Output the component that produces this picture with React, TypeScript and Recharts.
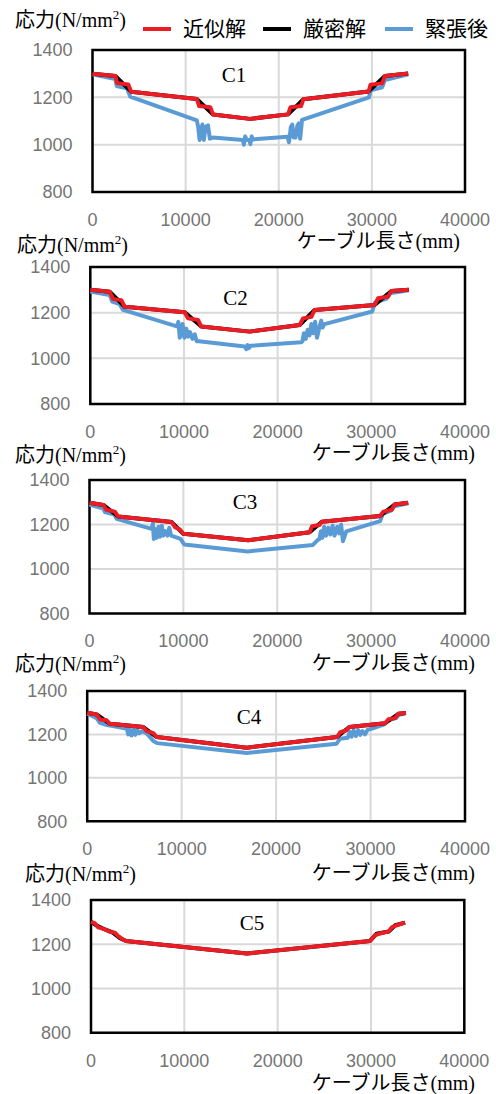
import { CartesianGrid, Line, LineChart, ReferenceArea, XAxis, YAxis } from "recharts";

type Pt = [number, number];

const xTicks = [0, 10000, 20000, 30000, 40000];
const yTicks = [800, 1000, 1200, 1400];
const seriesNames = ["近似解", "厳密解", "緊張後"];
const caseLabels = ["C1", "C2", "C3", "C4", "C5"];
const yTitle = "応力(N/mm";
const xTitle = "ケーブル長さ(mm)";

// C1
const c1Approx: Pt[] = [
  [0, 1300], [2450, 1290], [2650, 1260], [3850, 1254], [4150, 1224], [11200, 1193],
  [11450, 1163], [12650, 1158], [12950, 1127], [16900, 1109], [21000, 1128], [21250, 1158],
  [22400, 1163], [22650, 1192], [29650, 1225], [29850, 1253], [31100, 1259], [31400, 1290],
  [33900, 1301],
];
const c1Exact: Pt[] = [
  [0, 1300], [2450, 1290], [4150, 1224], [11200, 1193], [12950, 1127], [16900, 1109],
  [21000, 1128], [22650, 1192], [29650, 1225], [31400, 1290], [33900, 1301],
];
const c1Tension: Pt[] = [
  [0, 1297], [2450, 1277], [2600, 1248], [3700, 1238], [4050, 1203], [11200, 1103],
  [11350, 1075], [11500, 1020], [11650, 1060], [11800, 1085], [11950, 1020], [12150, 1075],
  [12400, 1082], [12600, 1025], [12900, 1030], [16150, 1020], [16250, 1000], [16400, 1035],
  [16550, 1020], [16850, 1020], [16950, 1002], [17100, 1035], [17200, 1022], [20950, 1033],
  [21100, 1010], [21300, 1075], [21450, 1085], [21600, 1030], [21800, 1030], [22000, 1080],
  [22150, 1090], [22300, 1025], [22500, 1105], [29700, 1200], [29850, 1230], [31100, 1242],
  [31400, 1273], [33900, 1297],
];

// C2
const c2Approx: Pt[] = [
  [0, 1300], [2070, 1292], [2420, 1260], [3310, 1255], [3670, 1226], [10080, 1202],
  [10430, 1175], [11500, 1168], [11850, 1139], [17000, 1117], [22350, 1146], [22710, 1175],
  [23600, 1182], [23950, 1212], [30360, 1234], [30710, 1263], [31780, 1270], [32140, 1295],
  [34000, 1300],
];
const c2Exact: Pt[] = [
  [0, 1300], [2070, 1292], [3670, 1226], [10080, 1202], [11850, 1139], [17000, 1117],
  [22350, 1146], [23950, 1212], [30360, 1234], [32140, 1295], [34000, 1300],
];
const c2Tension: Pt[] = [
  [0, 1293], [2070, 1277], [2350, 1248], [3140, 1237], [3490, 1212], [9250, 1140],
  [9400, 1160], [9550, 1090], [9700, 1105], [9850, 1150], [10050, 1090], [10250, 1130],
  [10450, 1095], [10650, 1115], [10900, 1085], [11150, 1105], [11350, 1075], [11600, 1075],
  [16500, 1052], [16650, 1040], [16800, 1058], [16950, 1045], [17100, 1055], [22500, 1070],
  [22650, 1075], [22800, 1110], [23000, 1085], [23200, 1125], [23400, 1100], [23600, 1150],
  [23800, 1110], [24000, 1160], [24200, 1090], [24450, 1135], [24650, 1165], [24800, 1135],
  [25000, 1150], [30100, 1205], [30400, 1245], [31650, 1262], [32000, 1285], [34000, 1298],
];

// C3
const c3Approx: Pt[] = [
  [0, 1298], [1470, 1288], [1800, 1266], [2700, 1258], [3050, 1236], [8750, 1211],
  [9100, 1188], [9650, 1177], [10000, 1158], [16900, 1129], [23450, 1165], [23700, 1192],
  [24500, 1198], [24750, 1212], [30950, 1238], [31300, 1258], [32200, 1266], [32500, 1290],
  [33950, 1298],
];
const c3Exact: Pt[] = [
  [0, 1298], [1470, 1288], [3050, 1236], [8750, 1211], [10000, 1158], [16900, 1129],
  [23450, 1165], [24750, 1212], [30950, 1238], [32500, 1290], [33950, 1298],
];
const c3Tension: Pt[] = [
  [0, 1290], [1450, 1272], [1650, 1256], [2650, 1245], [2900, 1225], [6600, 1180],
  [6750, 1205], [6850, 1135], [7000, 1180], [7150, 1140], [7350, 1190], [7500, 1145],
  [7700, 1195], [7850, 1150], [8050, 1170], [8300, 1150], [8500, 1185], [8700, 1150],
  [9700, 1135], [10100, 1110], [16850, 1079], [23800, 1108], [24300, 1130], [24500, 1135],
  [24650, 1170], [24800, 1140], [25000, 1190], [25200, 1150], [25450, 1185], [25650, 1155],
  [25900, 1195], [26100, 1150], [26400, 1190], [26600, 1160], [26800, 1200], [27000, 1125],
  [27350, 1169], [30950, 1215], [31250, 1248], [32100, 1262], [32450, 1282], [33950, 1295],
];

// C4
const c4Approx: Pt[] = [
  [0, 1300], [1000, 1292], [1360, 1269], [2060, 1265], [2410, 1249], [5940, 1234],
  [6300, 1215], [7000, 1206], [7360, 1188], [16890, 1139], [26450, 1188], [26800, 1210],
  [27400, 1218], [27750, 1234], [31550, 1252], [31900, 1270], [32600, 1275], [32950, 1295],
  [33750, 1299],
];
const c4Exact: Pt[] = [
  [0, 1300], [1000, 1292], [2410, 1249], [5940, 1234], [7360, 1188], [16890, 1139],
  [26450, 1188], [27750, 1234], [31550, 1252], [32950, 1295], [33750, 1299],
];
const c4Tension: Pt[] = [
  [0, 1297], [1000, 1275], [1300, 1255], [2100, 1243], [3300, 1234], [4200, 1226],
  [4350, 1200], [4500, 1222], [4700, 1195], [4900, 1225], [5100, 1198], [5300, 1220],
  [5500, 1205], [5800, 1215], [6300, 1205], [6600, 1190], [7000, 1170], [7400, 1160],
  [16890, 1115], [26400, 1157], [26750, 1180], [27600, 1185], [27800, 1212], [28000, 1190],
  [28200, 1218], [28450, 1193], [28700, 1220], [28900, 1198], [29150, 1215], [29400, 1200],
  [29700, 1222], [30100, 1226], [31500, 1248], [31850, 1265], [32700, 1275], [33000, 1290],
  [33700, 1297],
];

// C5
const c5Approx: Pt[] = [
  [0, 1301], [430, 1294], [780, 1276], [1500, 1267], [2040, 1256], [2570, 1252],
  [2930, 1237], [3460, 1221], [3750, 1215], [16690, 1158], [29900, 1215], [30440, 1241],
  [31160, 1251], [31870, 1257], [32230, 1276], [32770, 1286], [33650, 1298],
];
const c5Exact: Pt[] = [
  [0, 1301], [600, 1285], [1500, 1267], [2300, 1254], [3100, 1228], [3750, 1215],
  [16690, 1158], [29900, 1215], [30600, 1248], [31900, 1258], [32600, 1286], [33650, 1298],
];

const cases = [
  { approx: c1Approx, exact: c1Exact, tension: c1Tension },
  { approx: c2Approx, exact: c2Exact, tension: c2Tension },
  { approx: c3Approx, exact: c3Exact, tension: c3Tension },
  { approx: c4Approx, exact: c4Exact, tension: c4Tension },
  { approx: c5Approx, exact: c5Exact, tension: null },
];

// pixel layout of each panel (plot box, labels)
const frames = [
  { left: 92.5, right: 465, top: 49.5, bottom: 191.5, lx: 234, ly: 75, tx: 15, ty: 20, xr: 460, xy: 241 },
  { left: 90.3, right: 465, top: 267, bottom: 404, lx: 235.5, ly: 298, tx: 17, ty: 245, xr: 475, xy: 453 },
  { left: 89.5, right: 465, top: 480, bottom: 613.5, lx: 245, ly: 502, tx: 15, ty: 455, xr: 475, xy: 663 },
  { left: 87.2, right: 465, top: 690.7, bottom: 821, lx: 249, ly: 717, tx: 15, ty: 664, xr: 475, xy: 873 },
  { left: 91, right: 464.3, top: 899.7, bottom: 1032.5, lx: 252, ly: 923, tx: 25, ty: 874, xr: 475, xy: 1083 },
];

const RED = "#ec1c24";
const BLACK = "#000000";
const BLUE = "#5b9bd5";
const serif = "'Liberation Serif', 'Noto Sans CJK JP', serif";
const sans = "'Liberation Sans', Arial, sans-serif";

const toRows = (pts: Pt[]) => pts.map(([x, y]) => ({ x, y }));

const PAD = 16;
const AXIS_H = 44;

function Panel({ i }: { i: number }) {
  const f = frames[i];
  const c = cases[i];
  const tick = { fill: "#757575", fontSize: 18, fontFamily: sans };
  return (
    <>
      <div style={{ position: "absolute", left: 0, top: f.top - PAD }}>
        <LineChart
          width={496}
          height={f.bottom - f.top + PAD + AXIS_H}
          margin={{ top: PAD, right: 496 - f.right, bottom: 0, left: 0 }}
        >
          <CartesianGrid stroke="#d9d9d9" strokeWidth={2} />
          <XAxis
            type="number"
            dataKey="x"
            domain={[0, 40000]}
            ticks={xTicks}
            height={AXIS_H}
            axisLine={false}
            tickLine={false}
            tickMargin={15}
            tick={tick}
            interval={0}
          />
          <YAxis
            type="number"
            domain={[800, 1400]}
            ticks={yTicks}
            width={f.left}
            axisLine={false}
            tickLine={false}
            tickMargin={14}
            tick={tick}
            interval={0}
          />
          <ReferenceArea x1={0} x2={40000} y1={800} y2={1400} fill="none" stroke="#000" strokeWidth={2.5} />
          {c.tension && (
            <Line
              data={toRows(c.tension)}
              dataKey="y"
              name={seriesNames[2]}
              stroke={BLUE}
              strokeWidth={4}
              dot={false}
              type="linear"
              strokeLinejoin="round"
              isAnimationActive={false}
            />
          )}
          <Line
            data={toRows(c.exact)}
            dataKey="y"
            name={seriesNames[1]}
            stroke={BLACK}
            strokeWidth={4}
            dot={false}
            type="linear"
            strokeLinejoin="round"
            isAnimationActive={false}
          />
          <Line
            data={toRows(c.approx)}
            dataKey="y"
            name={seriesNames[0]}
            stroke={RED}
            strokeWidth={4}
            dot={false}
            type="linear"
            strokeLinejoin="round"
            isAnimationActive={false}
          />
        </LineChart>
      </div>
      <div
        style={{
          position: "absolute",
          left: f.lx - 30,
          width: 60,
          top: f.ly - 11,
          lineHeight: "22px",
          textAlign: "center",
          fontFamily: serif,
          fontSize: 21,
          color: "#000",
        }}
      >
        {caseLabels[i]}
      </div>
      <div
        style={{
          position: "absolute",
          left: f.tx,
          top: f.ty - 11,
          lineHeight: "22px",
          fontFamily: serif,
          fontSize: 20,
          color: "#000",
          whiteSpace: "nowrap",
        }}
      >
        {yTitle}
        <sup style={{ fontSize: 13, lineHeight: 0 }}>2</sup>)
      </div>
      <div
        style={{
          position: "absolute",
          right: 496 - f.xr,
          top: f.xy - 11,
          lineHeight: "22px",
          fontFamily: serif,
          fontSize: 20,
          color: "#000",
          whiteSpace: "nowrap",
        }}
      >
        {xTitle}
      </div>
    </>
  );
}

function LegendRow() {
  const items = [
    { name: seriesNames[0], color: RED, x: 143 },
    { name: seriesNames[1], color: BLACK, x: 263 },
    { name: seriesNames[2], color: BLUE, x: 385 },
  ];
  return (
    <>
      {items.map((it) => (
        <div key={it.name} style={{ position: "absolute", left: it.x, top: 17, display: "flex", alignItems: "center" }}>
          <div style={{ width: 28, height: 4, background: it.color, marginRight: 12 }} />
          <span style={{ fontFamily: serif, fontSize: 21, lineHeight: "24px", whiteSpace: "nowrap" }}>{it.name}</span>
        </div>
      ))}
    </>
  );
}

export default function App() {
  return (
    <div style={{ position: "absolute", left: 0, top: 0, width: 496, height: 1094, background: "#fff", overflow: "hidden" }}>
      <LegendRow />
      {cases.map((_, i) => (
        <Panel key={caseLabels[i]} i={i} />
      ))}
    </div>
  );
}
